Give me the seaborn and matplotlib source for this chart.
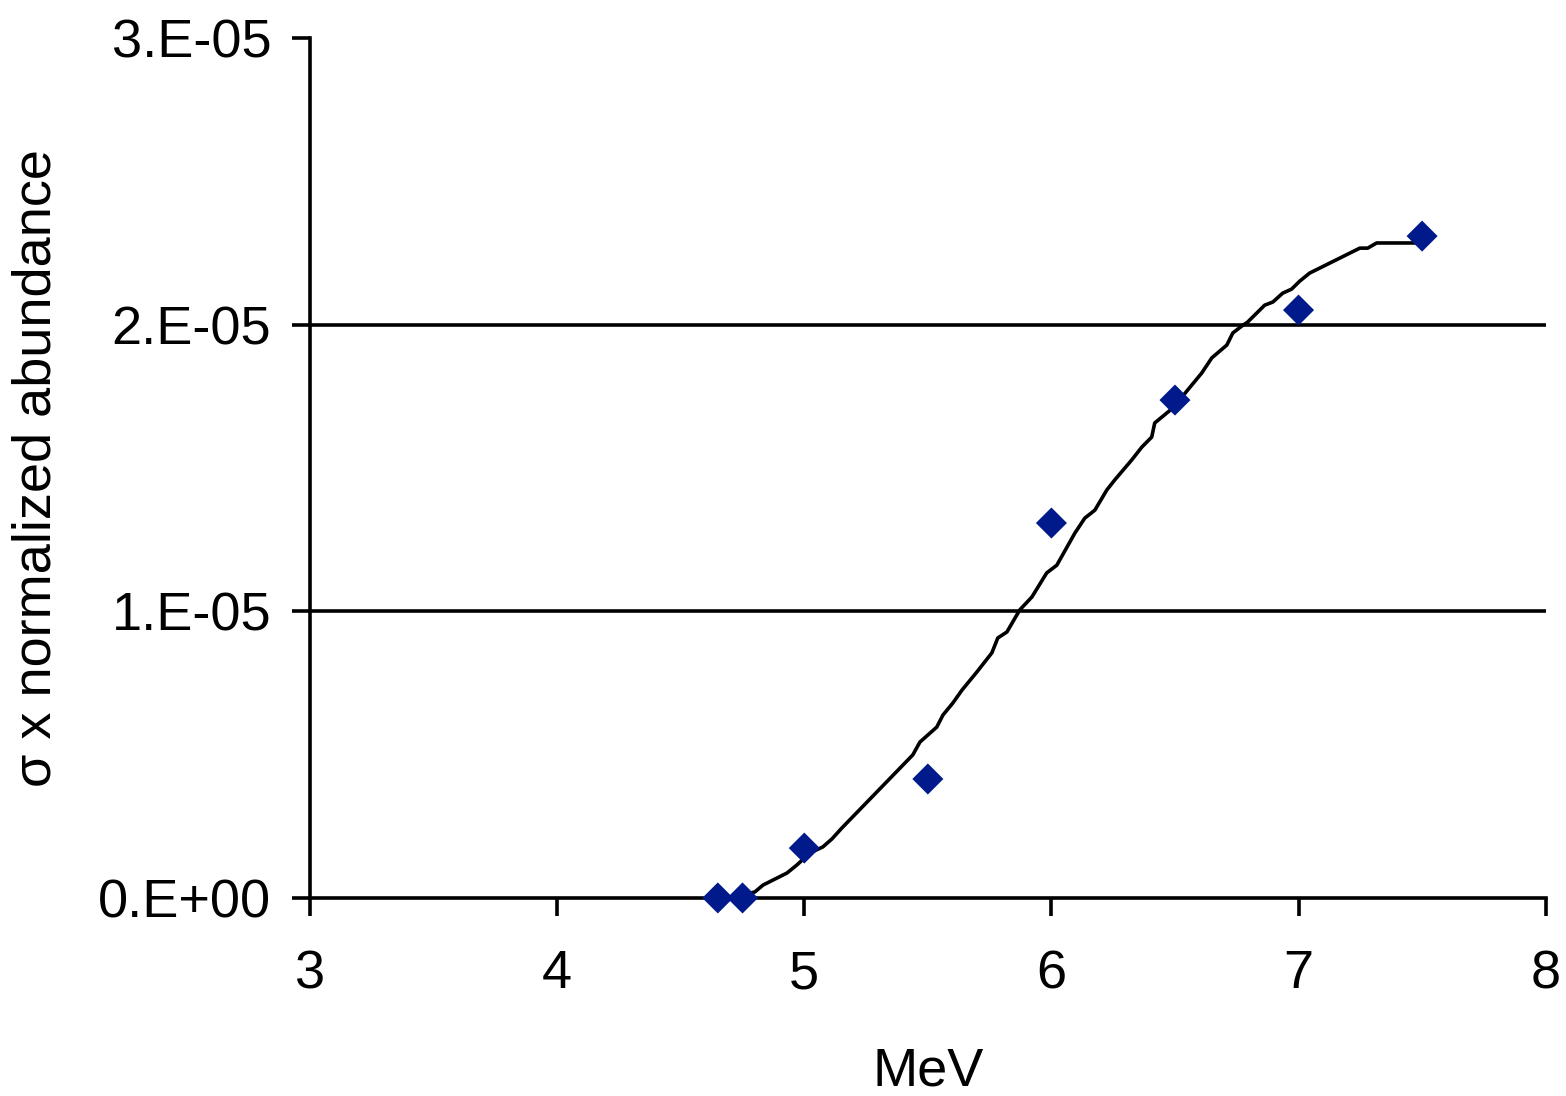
import matplotlib
matplotlib.use("Agg")
import matplotlib.pyplot as plt
import seaborn as sns
import pandas as pd

# Measured points (diamonds)
point_mev = [4.65, 4.75, 5.0, 5.5, 6.0, 6.5, 7.0, 7.5]
point_val = [0.0, 0.0, 1.74e-6, 4.15e-6, 1.308e-5, 1.737e-5, 2.051e-5, 2.309e-5]

# Calculated curve (solid line)
curve_mev = [4.659, 4.719, 4.752, 4.800, 4.833, 4.930, 4.970, 5.023, 5.075, 5.112,
             5.152, 5.439, 5.468, 5.536, 5.561, 5.601, 5.638, 5.698, 5.759, 5.783,
             5.820, 5.872, 5.921, 5.981, 6.022, 6.095, 6.135, 6.176, 6.224, 6.256,
             6.325, 6.366, 6.406, 6.418, 6.491, 6.608, 6.649, 6.710, 6.734, 6.770,
             6.794, 6.863, 6.896, 6.936, 6.972, 7.005, 7.045, 7.248, 7.280, 7.316,
             7.498]
curve_val = [0.0, 0.0, 0.0105e-5, 0.021e-5, 0.045e-5, 0.087e-5, 0.115e-5, 0.157e-5, 0.178e-5, 0.206e-5,
             0.244e-5, 0.499e-5, 0.544e-5, 0.596e-5, 0.638e-5, 0.680e-5, 0.725e-5, 0.788e-5, 0.855e-5, 0.907e-5,
             0.928e-5, 1.005e-5, 1.050e-5, 1.134e-5, 1.161e-5, 1.273e-5, 1.325e-5, 1.353e-5, 1.423e-5, 1.458e-5,
             1.528e-5, 1.573e-5, 1.608e-5, 1.657e-5, 1.709e-5, 1.831e-5, 1.884e-5, 1.929e-5, 1.971e-5, 1.995e-5,
             2.009e-5, 2.068e-5, 2.079e-5, 2.110e-5, 2.124e-5, 2.152e-5, 2.180e-5, 2.267e-5, 2.267e-5, 2.285e-5,
             2.285e-5]

x_ticks = [3, 4, 5, 6, 7, 8]
y_ticks = [0.0, 1e-5, 2e-5, 3e-5]
y_tick_labels = ["0.E+00", "1.E-05", "2.E-05", "3.E-05"]
grid_vals = [1e-5, 2e-5]

sns.set_style("white")
plt.rcParams['font.family'] = ['Liberation Sans', 'DejaVu Sans']
plt.rcParams['text.color'] = 'black'
plt.rcParams['axes.labelcolor'] = 'black'
plt.rcParams['xtick.color'] = 'black'
plt.rcParams['ytick.color'] = 'black'

fig = plt.figure(figsize=(15.66, 10.96), dpi=100)
ax = fig.add_axes([0.198, 0.1807, 0.789, 0.7846])

for g in grid_vals:
    ax.axhline(g, color="black", lw=2.6, zorder=1)

curve_df = pd.DataFrame({"MeV": curve_mev, "val": curve_val})
pts_df = pd.DataFrame({"MeV": point_mev, "val": point_val})

sns.lineplot(data=curve_df, x="MeV", y="val", sort=False, estimator=None,
             color="black", lw=2.6, ax=ax, zorder=3)
sns.scatterplot(data=pts_df, x="MeV", y="val", marker="D", s=250,
                color="#001a8c", edgecolor="none", linewidth=0, ax=ax,
                zorder=4, clip_on=False)

ax.set_xlim(3, 8)
ax.set_ylim(0, 3e-5)
ax.set_xticks(x_ticks)
ax.set_xticklabels([str(v) for v in x_ticks])
ax.set_yticks(y_ticks)
ax.set_yticklabels(y_tick_labels)

for s in ["top", "right"]:
    ax.spines[s].set_visible(False)
for s in ["left", "bottom"]:
    ax.spines[s].set_color("black")
    ax.spines[s].set_linewidth(2.6)
    ax.spines[s].set_zorder(2)

ax.tick_params(axis="both", which="major", direction="out", length=13,
               width=2.6, color="black", labelcolor="black", labelsize=39,
               left=True, bottom=True)
ax.tick_params(axis="y", pad=15)
ax.tick_params(axis="x", pad=24)

ax.set_xlabel("MeV", fontsize=39, labelpad=34, color="black")
ax.set_ylabel("σ x normalized abundance", fontsize=39, labelpad=26, color="black")

fig.savefig("out.png", dpi=100, facecolor="white")
